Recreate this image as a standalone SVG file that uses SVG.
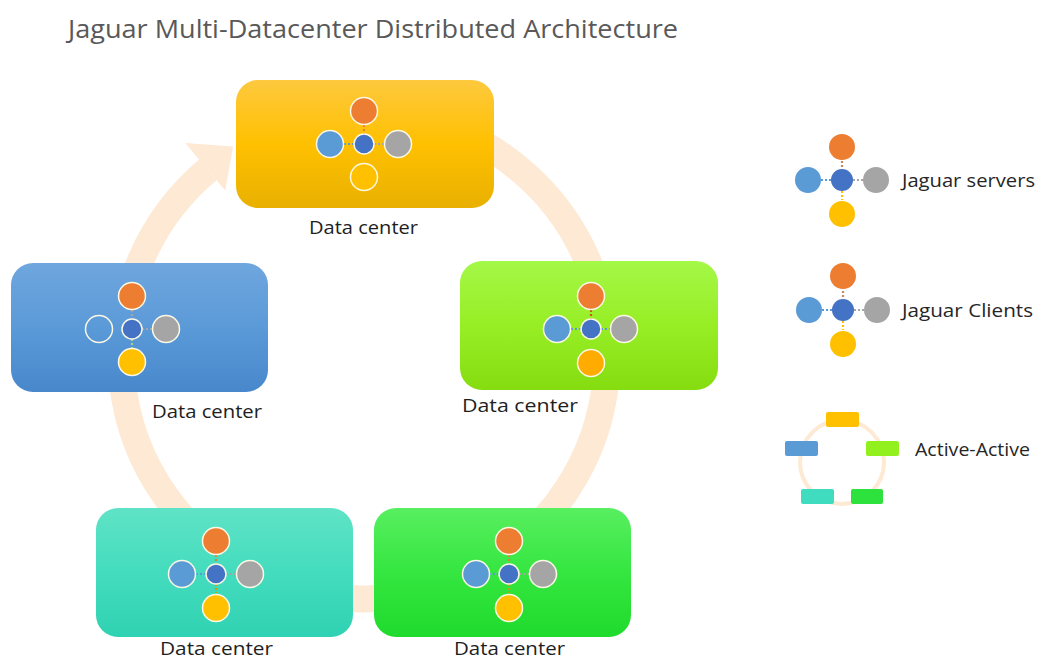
<svg xmlns="http://www.w3.org/2000/svg" xmlns:xlink="http://www.w3.org/1999/xlink" width="1043" height="660" viewBox="0 0 1043 660">
<style>
text{font-family:"Open Sans","Noto Sans","Liberation Sans",sans-serif}
.title{font-size:26px;fill:#595959}
.lbl{font-size:18px;fill:#1e1e1e}
.leg{font-size:18px;fill:#262626}
.o{fill:#ed7d31}.b{fill:#5b9bd5}.g{fill:#a5a5a5}.y{fill:#ffc000}.c{fill:#4472c4}
.s circle{stroke:#fbf8e6;stroke-width:1.5}
.dash{stroke-width:2.2;stroke-dasharray:2 2;fill:none}
.box{stroke:none}
</style>
<defs>
<linearGradient id="gTop" x1="0" y1="0" x2="0" y2="1"><stop offset="0" stop-color="#fdc93e"/><stop offset="0.5" stop-color="#ffc000"/><stop offset="1" stop-color="#e8b000"/></linearGradient>
<linearGradient id="gBlue" x1="0" y1="0" x2="0" y2="1"><stop offset="0" stop-color="#6fa6de"/><stop offset="0.5" stop-color="#5b9ad8"/><stop offset="1" stop-color="#4887cb"/></linearGradient>
<linearGradient id="gLime" x1="0" y1="0" x2="0" y2="1"><stop offset="0" stop-color="#a4f847"/><stop offset="0.5" stop-color="#97ee25"/><stop offset="1" stop-color="#85dd10"/></linearGradient>
<linearGradient id="gTeal" x1="0" y1="0" x2="0" y2="1"><stop offset="0" stop-color="#5fe3c6"/><stop offset="0.5" stop-color="#44dcbe"/><stop offset="1" stop-color="#2fd2b2"/></linearGradient>
<linearGradient id="gGreen" x1="0" y1="0" x2="0" y2="1"><stop offset="0" stop-color="#58ef60"/><stop offset="0.5" stop-color="#35e640"/><stop offset="1" stop-color="#1fdb2c"/></linearGradient>
</defs>
<rect width="1043" height="660" fill="#ffffff"/>
<text class="title" x="68" y="38" textLength="610" lengthAdjust="spacingAndGlyphs">Jaguar Multi-Datacenter Distributed Architecture</text>

<g id="connectors">
<path d="M301.1,121.3 A243,243 0 1 1 207.8,169.9" fill="none" stroke="#fde9d4" stroke-width="27"/>
<polygon points="225.2,190.5 185.3,143.0 233.1,146.5" fill="#fde9d4"/>
</g>

<g id="dc-top">
<rect class="box" x="236" y="80" width="258" height="128" rx="22" fill="url(#gTop)"/>
<g class="s" transform="translate(364,144)">
<line class="dash" x1="0" y1="-19" x2="0" y2="-10" stroke="#ed7d31"/>
<line class="dash" x1="-20" y1="0" x2="-10" y2="0" stroke="#5b9bd5"/>
<line class="dash" x1="10" y1="0" x2="20" y2="0" stroke="#a5a5a5"/>
<circle class="o" cx="0" cy="-33" r="13.5"/>
<circle class="b" cx="-34" cy="0" r="13.5"/>
<circle class="g" cx="34" cy="0" r="13.5"/>
<circle class="y" cx="0" cy="33" r="13.5"/>
<circle class="c" cx="0" cy="0" r="10"/>
</g>
<text class="lbl" x="309" y="234" textLength="109" lengthAdjust="spacingAndGlyphs">Data center</text>
</g>

<g id="dc-left">
<rect class="box" x="11" y="263" width="257" height="129" rx="22" fill="url(#gBlue)"/>
<g class="s" transform="translate(132,329)">
<line class="dash" x1="0" y1="-19" x2="0" y2="-10" stroke="#a5a5a5"/>
<line class="dash" x1="10" y1="0" x2="20" y2="0" stroke="#a5a5a5"/>
<line class="dash" x1="0" y1="10" x2="0" y2="19" stroke="#a9d18e"/>
<circle class="o" cx="0" cy="-33" r="13.5"/>
<circle cx="-33" cy="0" r="13.5" fill="none"/>
<circle class="g" cx="34" cy="0" r="13.5"/>
<circle class="y" cx="0" cy="33" r="13.5"/>
<circle class="c" cx="0" cy="0" r="10"/>
</g>
<text class="lbl" x="152" y="418" textLength="110" lengthAdjust="spacingAndGlyphs">Data center</text>
</g>

<g id="dc-right">
<rect class="box" x="460" y="261" width="258" height="129" rx="22" fill="url(#gLime)"/>
<g class="s" transform="translate(591,329)">
<line class="dash" x1="0" y1="-19" x2="0" y2="-10" stroke="#c55a11"/>
<line class="dash" x1="-20" y1="0" x2="-10" y2="0" stroke="#5b9bd5"/>
<line class="dash" x1="10" y1="0" x2="20" y2="0" stroke="#5b9bd5"/>
<circle class="o" cx="0" cy="-33" r="13.5"/>
<circle class="b" cx="-34" cy="0" r="13.5"/>
<circle class="g" cx="33" cy="0" r="13.5"/>
<circle cx="0" cy="34" r="13.5" fill="#ffab00"/>
<circle class="c" cx="0" cy="0" r="10"/>
</g>
<text class="lbl" x="462" y="412" textLength="116" lengthAdjust="spacingAndGlyphs">Data center</text>
</g>

<g id="dc-bottom-left">
<rect class="box" x="96" y="508" width="257" height="129" rx="22" fill="url(#gTeal)"/>
<g class="s" transform="translate(216,574)">
<line class="dash" x1="0" y1="-19" x2="0" y2="-10" stroke="#c58a3a"/>
<line class="dash" x1="-20" y1="0" x2="-10" y2="0" stroke="#5b9bd5"/>
<line class="dash" x1="10" y1="0" x2="20" y2="0" stroke="#a5a5a5"/>
<line class="dash" x1="0" y1="10" x2="0" y2="19" stroke="#c5a000"/>
<circle class="o" cx="0" cy="-33" r="13.5"/>
<circle class="b" cx="-34" cy="0" r="13.5"/>
<circle class="g" cx="34" cy="0" r="13.5"/>
<circle class="y" cx="0" cy="34" r="13.5"/>
<circle class="c" cx="0" cy="0" r="10"/>
</g>
<text class="lbl" x="160" y="655" textLength="113" lengthAdjust="spacingAndGlyphs">Data center</text>
</g>

<g id="dc-bottom-right">
<rect class="box" x="374" y="508" width="257" height="129" rx="22" fill="url(#gGreen)"/>
<g class="s" transform="translate(509,574)">
<line class="dash" x1="0" y1="-19" x2="0" y2="-10" stroke="#c58a3a"/>
<line class="dash" x1="-20" y1="0" x2="-10" y2="0" stroke="#5b9bd5"/>
<line class="dash" x1="10" y1="0" x2="20" y2="0" stroke="#a5a5a5"/>
<line class="dash" x1="0" y1="10" x2="0" y2="19" stroke="#c5a000"/>
<circle class="o" cx="0" cy="-33" r="13.5"/>
<circle class="b" cx="-33" cy="0" r="13.5"/>
<circle class="g" cx="34" cy="0" r="13.5"/>
<circle class="y" cx="0" cy="34" r="13.5"/>
<circle class="c" cx="0" cy="0" r="10"/>
</g>
<text class="lbl" x="454" y="655" textLength="111" lengthAdjust="spacingAndGlyphs">Data center</text>
</g>

<g id="legend-servers">
<g transform="translate(842,180)">
<line class="dash" x1="0" y1="-19" x2="0" y2="-11" stroke="#c58a5a"/>
<line class="dash" x1="-21" y1="0" x2="-11" y2="0" stroke="#5b9bd5"/>
<line class="dash" x1="11" y1="0" x2="21" y2="0" stroke="#a5a5a5"/>
<line class="dash" x1="0" y1="11" x2="0" y2="20" stroke="#ffc000"/>
<circle class="o" cx="0" cy="-33" r="13"/>
<circle class="b" cx="-34" cy="0" r="13"/>
<circle class="g" cx="34" cy="0" r="13"/>
<circle class="y" cx="0" cy="34" r="13"/>
<circle class="c" cx="0" cy="0" r="11"/>
</g>
<text class="leg" x="902" y="187" textLength="133" lengthAdjust="spacingAndGlyphs">Jaguar servers</text>
</g>

<g id="legend-clients">
<g transform="translate(843,310)">
<line class="dash" x1="0" y1="-19" x2="0" y2="-11" stroke="#c58a5a"/>
<line class="dash" x1="-21" y1="0" x2="-11" y2="0" stroke="#5b9bd5"/>
<line class="dash" x1="11" y1="0" x2="21" y2="0" stroke="#a5a5a5"/>
<line class="dash" x1="0" y1="11" x2="0" y2="20" stroke="#ffc000"/>
<circle class="o" cx="0" cy="-34" r="13"/>
<circle class="b" cx="-34" cy="0" r="13"/>
<circle class="g" cx="34" cy="0" r="13"/>
<circle class="y" cx="0" cy="34" r="13"/>
<circle class="c" cx="0" cy="0" r="11"/>
</g>
<text class="leg" x="902" y="317" textLength="131" lengthAdjust="spacingAndGlyphs">Jaguar Clients</text>
</g>

<g id="legend-active">
<circle cx="842" cy="462" r="42" fill="none" stroke="#fde9d4" stroke-width="4"/>
<rect x="826" y="412" width="33" height="15" rx="2" fill="#ffc000"/>
<rect x="785" y="441" width="33" height="15" rx="2" fill="#5b9bd5"/>
<rect x="866" y="441" width="33" height="15" rx="2" fill="#92f01e"/>
<rect x="801" y="489" width="33" height="15" rx="2" fill="#3fdcc0"/>
<rect x="851" y="489" width="32" height="15" rx="2" fill="#2ee23e"/>
<text class="leg" x="915" y="456" textLength="115" lengthAdjust="spacingAndGlyphs">Active-Active</text>
</g>
</svg>
